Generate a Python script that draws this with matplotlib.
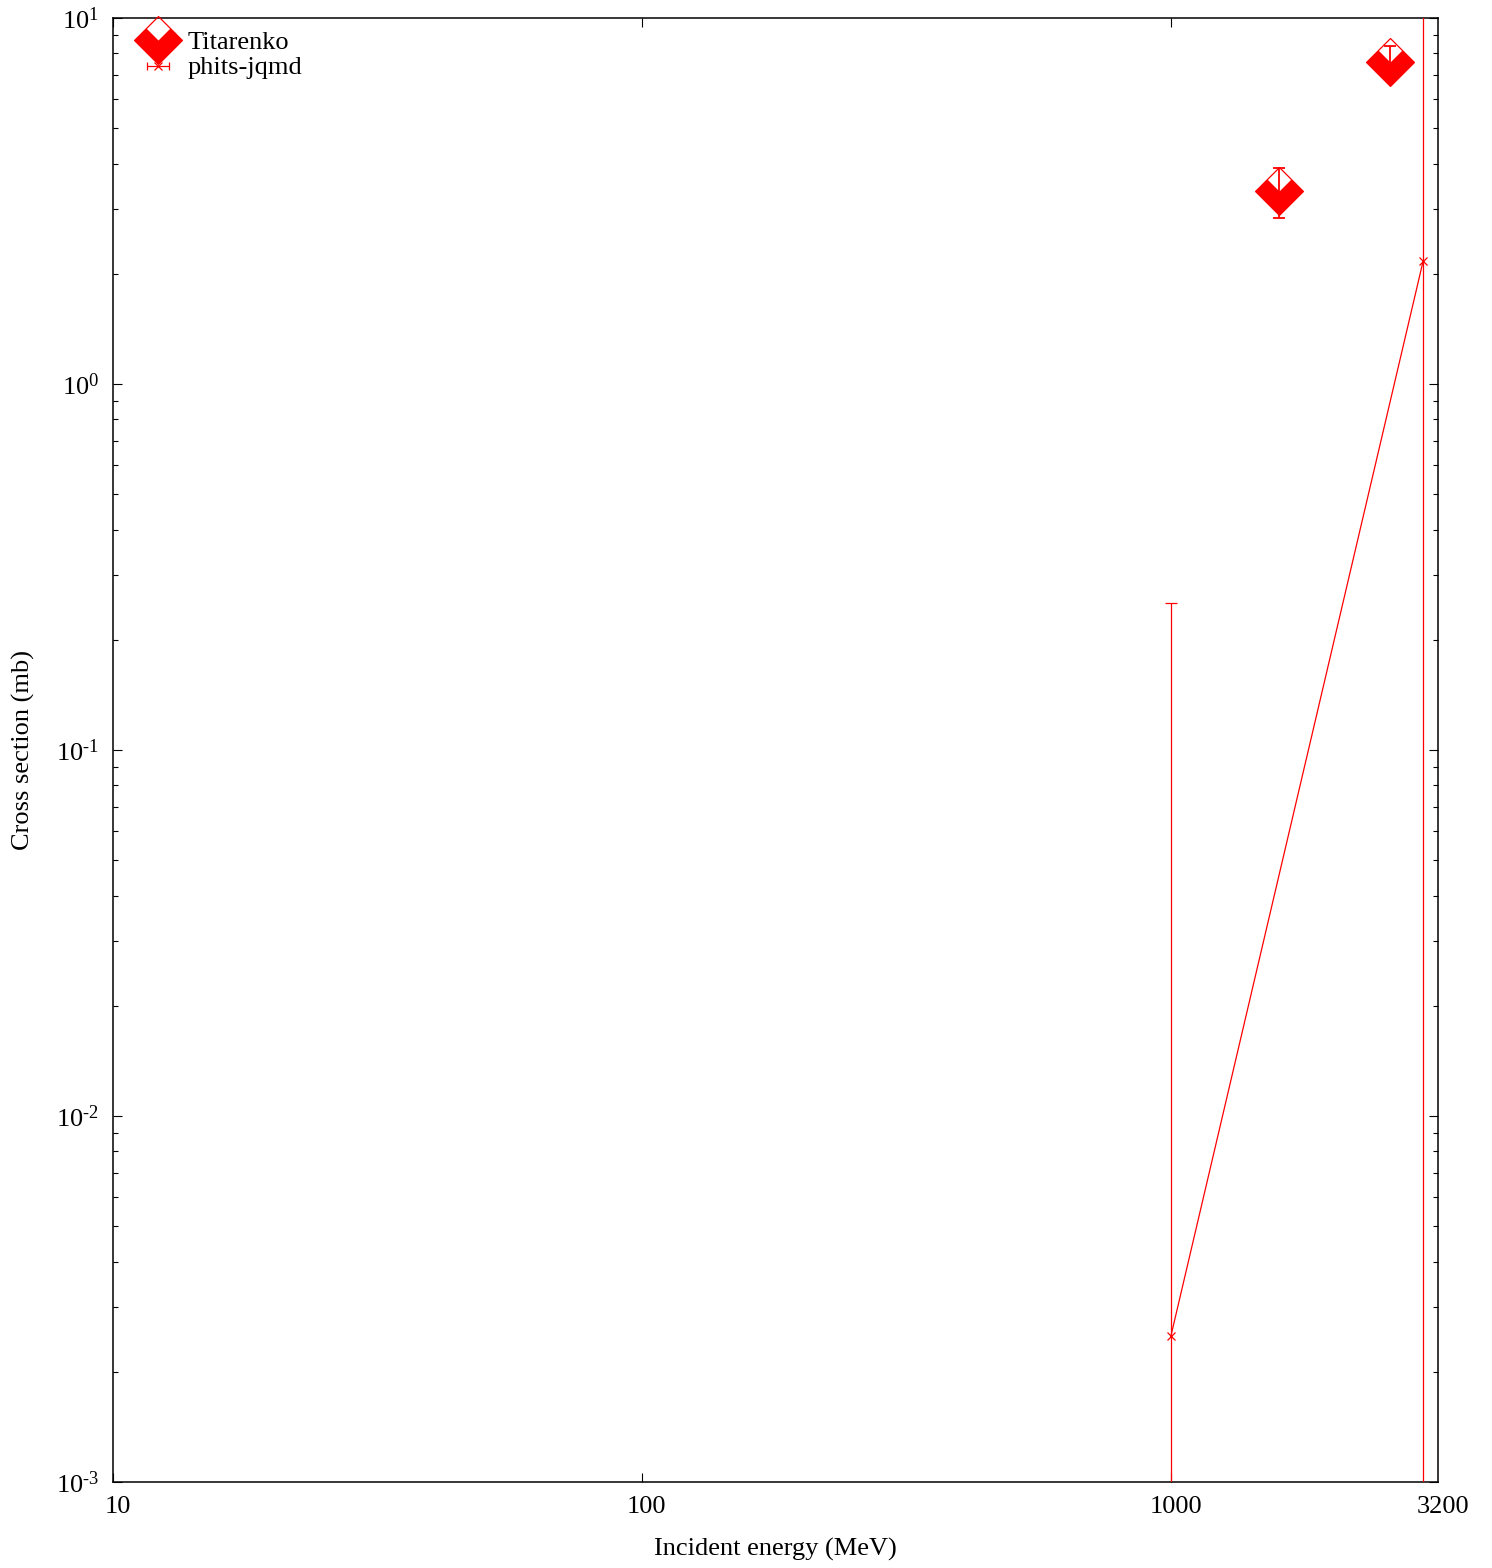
import numpy as np
import matplotlib
matplotlib.use("Agg")
import matplotlib.pyplot as plt
from matplotlib.path import Path
from matplotlib.lines import Line2D
from matplotlib.legend_handler import HandlerErrorbar
import matplotlib.transforms as mtransforms

plt.rcParams['font.family'] = ['Liberation Serif', 'DejaVu Serif']
plt.rcParams['mathtext.fontset'] = 'custom'
plt.rcParams['mathtext.rm'] = 'Liberation Serif'
plt.rcParams['font.size'] = 19

# data
titarenko_e = [1600, 2600]
titarenko_xs = [3.37, 7.6]
titarenko_err = [0.52, 0.8]

jqmd_e = [1000, 3000]
jqmd_xs = [0.0025, 2.17]
jqmd_err = [0.25, 10.0]

xticks = [10, 100, 1000, 3200]
xticklabels = ['10', '100', '1000', '3200']
yticks = [1e-3, 1e-2, 1e-1, 1e0, 1e1]
yticklabels = [r'$\mathregular{10^{\text{-}3}}$', r'$\mathregular{10^{\text{-}2}}$',
               r'$\mathregular{10^{\text{-}1}}$', r'$\mathregular{10^{0}}$',
               r'$\mathregular{10^{1}}$']

red = '#ff0000'

# diamond with the top quarter cut out, plus full diamond outline
fill_shape = Path([(0, -1), (1, 0), (0.5, 0.5), (0, 0), (-0.5, 0.5), (-1, 0), (0, -1)],
                  [Path.MOVETO] + [Path.LINETO] * 5 + [Path.CLOSEPOLY])
outline_shape = Path([(0, -1), (1, 0), (0, 1), (-1, 0), (0, -1)],
                     [Path.MOVETO] + [Path.LINETO] * 3 + [Path.CLOSEPOLY])
msize = 34.5

fig = plt.figure(figsize=(14.92, 15.68), dpi=100)
ax = fig.add_axes([113 / 1492, 1 - 1482 / 1568, 1325 / 1492, 1464 / 1568])
ax.set_xscale('log')
ax.set_yscale('log')

# Titarenko
ax.plot(titarenko_e, titarenko_xs, ls='none', marker=fill_shape, ms=msize,
        mfc=red, mec=red, mew=0, zorder=2)
ax.plot(titarenko_e, titarenko_xs, ls='none', marker=outline_shape, ms=msize,
        mfc='none', mec=red, mew=0.9, zorder=2)
ax.errorbar(titarenko_e, titarenko_xs, yerr=titarenko_err, fmt='none', ecolor=red,
            elinewidth=1.3, capsize=4, capthick=1.3, zorder=3)

# phits-jqmd
ax.errorbar(jqmd_e, jqmd_xs, yerr=jqmd_err, fmt='-x', color=red, lw=0.9,
            ms=6, mew=0.9, elinewidth=0.9, capsize=4, capthick=0.9, zorder=4)

ax.set_xlim(10, 3200)
ax.set_ylim(1e-3, 1e1)

ax.set_xticks(xticks)
ax.set_xticklabels(xticklabels)
ax.xaxis.set_minor_locator(matplotlib.ticker.NullLocator())
ax.set_yticks(yticks)
ax.set_yticklabels(yticklabels)
ax.yaxis.set_minor_locator(matplotlib.ticker.LogLocator(base=10, subs=np.arange(2, 10)))
ax.yaxis.set_minor_formatter(matplotlib.ticker.NullFormatter())

ax.tick_params(which='both', direction='in', top=True, right=True, width=0.8, colors='black')
ax.tick_params(which='major', length=6.5)
ax.tick_params(which='minor', length=3.3)
ax.tick_params(axis='x', which='major', pad=10)
ax.tick_params(axis='y', which='major', pad=10)
for sp in ax.spines.values():
    sp.set_linewidth(1.1)

# 3200 sits on the right border: no tick marks there
for t in ax.xaxis.get_major_ticks():
    if t.get_loc() == 3200:
        t.tick1line.set_visible(False)
        t.tick2line.set_visible(False)

offset = mtransforms.ScaledTranslation(0.05, 0, fig.dpi_scale_trans)
for lab in ax.get_xticklabels():
    lab.set_transform(lab.get_transform() + offset)

ax.set_xlabel('Incident energy (MeV)')
ax.set_ylabel('Cross section (mb)')
ax.xaxis.set_label_coords(0.5, -0.0458)
ax.xaxis.label.set_va('center')
ax.yaxis.set_label_coords(-0.0675, 0.5)
ax.yaxis.label.set_va('center')

# legend
h_tit = (Line2D([], [], ls='none', marker=fill_shape, ms=msize, mfc=red, mec=red, mew=0),
         Line2D([], [], ls='none', marker=outline_shape, ms=msize, mfc='none', mec=red, mew=0.9))
h_jqmd = ax.errorbar([np.nan], [np.nan], xerr=[1.0], fmt='x', color=red, ms=6, mew=0.9,
                     elinewidth=0.9, capsize=3, capthick=0.9)
ax.legend([h_tit, h_jqmd], ['Titarenko', 'phits-jqmd'], loc='upper left',
          bbox_to_anchor=(0.0196, 0.9905), frameon=False, borderpad=0, borderaxespad=0,
          handlelength=1.45, handletextpad=0.38, labelspacing=0.12, handleheight=0.5,
          numpoints=1, handler_map={type(h_jqmd): HandlerErrorbar(xerr_size=0.43)})

fig.savefig('out.png', dpi=100)
